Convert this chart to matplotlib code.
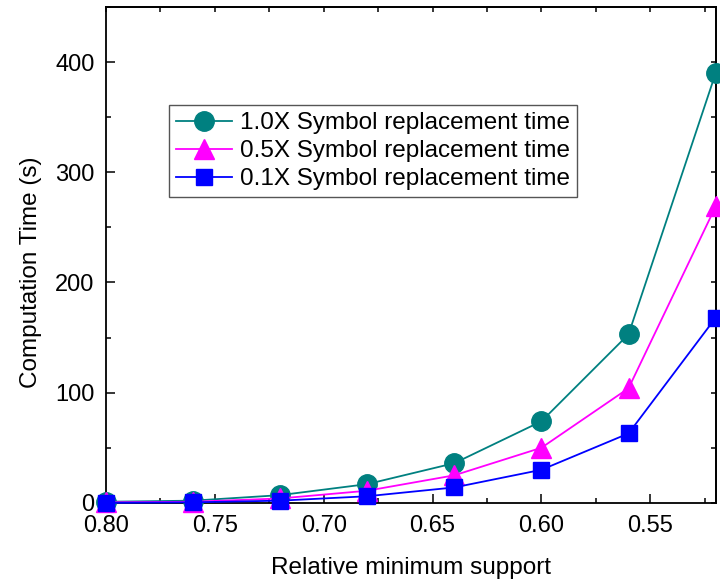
import matplotlib
matplotlib.use('Agg')
import matplotlib.pyplot as plt
from matplotlib.ticker import MultipleLocator, FormatStrFormatter

plt.rcParams['font.family'] = ['Liberation Sans', 'DejaVu Sans']

# Data
support = [0.80, 0.76, 0.72, 0.68, 0.64, 0.60, 0.56, 0.52]
time_10x = [1, 2, 7, 17, 36, 74, 153, 390]
time_05x = [0.5, 1, 4, 11, 25, 50, 104, 269]
time_01x = [0, 0.5, 2, 6, 14, 30, 63, 168]
labels = ['1.0X Symbol replacement time',
          '0.5X Symbol replacement time',
          '0.1X Symbol replacement time']

fig = plt.figure(figsize=(7.2, 5.8), dpi=100)
ax = fig.add_axes([0.147, 0.133, 0.847, 0.855])

ax.plot(support, time_10x, '-o', color='#008080', lw=1.3, ms=14,
        label=labels[0], clip_on=False, zorder=3)
ax.plot(support, time_05x, '-^', color='#FF00FF', lw=1.3, ms=14,
        label=labels[1], clip_on=False, zorder=4)
ax.plot(support, time_01x, '-s', color='#0000FF', lw=1.3, ms=12,
        label=labels[2], clip_on=False, zorder=5)

ax.set_xlim(0.80, 0.52)
ax.set_ylim(0, 450)

ax.xaxis.set_major_locator(MultipleLocator(0.05))
ax.xaxis.set_minor_locator(MultipleLocator(0.025))
ax.xaxis.set_major_formatter(FormatStrFormatter('%.2f'))
ax.yaxis.set_major_locator(MultipleLocator(100))
ax.yaxis.set_minor_locator(MultipleLocator(50))

ax.tick_params(which='major', direction='in', length=6.5, width=1.1,
               labelsize=17)
ax.tick_params(axis='x', which='major', pad=9)
ax.tick_params(axis='y', which='major', pad=8)
ax.tick_params(which='minor', direction='in', length=3.5, width=1.1)

# short ticks on top and right
top = ax.secondary_xaxis('top')
top.xaxis.set_major_locator(MultipleLocator(0.05))
top.xaxis.set_minor_locator(MultipleLocator(0.025))
top.tick_params(which='both', direction='in', length=3.5, width=1.1,
                labeltop=False)
right = ax.secondary_yaxis('right')
right.yaxis.set_major_locator(MultipleLocator(100))
right.yaxis.set_minor_locator(MultipleLocator(50))
right.tick_params(which='both', direction='in', length=3.5, width=1.1,
                  labelright=False)

for sp in list(ax.spines.values()) + [top.spines['top'], right.spines['right']]:
    sp.set_linewidth(1.3)

ax.set_xlabel('Relative minimum support', fontsize=17.5, labelpad=14)
ax.set_ylabel('Computation Time (s)', fontsize=17.5)
ax.yaxis.set_label_coords(-0.104, 0.465)

leg = ax.legend(loc='upper left', bbox_to_anchor=(0.103, 0.802),
                borderaxespad=0, fontsize=17.5, handlelength=2.3,
                handletextpad=0.33, labelspacing=0.24, borderpad=0.3,
                fancybox=False, framealpha=1)
leg.get_frame().set_edgecolor('#555555')
leg.get_frame().set_linewidth(1.0)

fig.savefig('out.png', dpi=100)
